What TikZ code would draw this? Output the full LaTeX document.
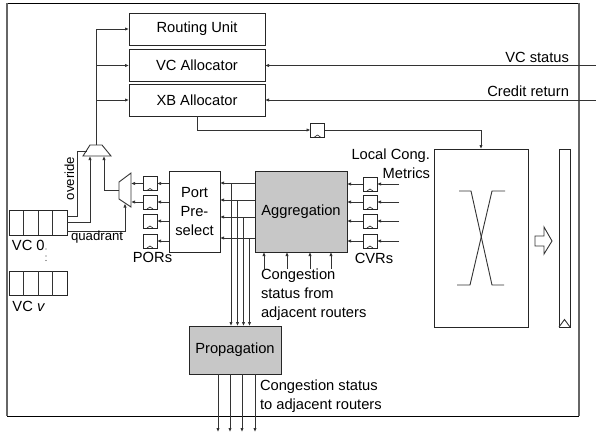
\documentclass[tikz,border=0pt]{standalone}
\usepackage{fontspec}
\setmainfont{Liberation Sans}
\usetikzlibrary{arrows.meta}
\tikzset{
  ln/.style={line width=0.9pt,draw=black!80},
  arr/.style={ln,-{Latex[length=4pt,width=3.4pt]}},
  blockbox/.style={draw=black!85,line width=0.9pt,fill=white,inner sep=0pt,outer sep=0pt,align=center,font=\fontsize{14.7}{18.7}\selectfont},
  graybox/.style={blockbox,fill=black!22},
  latch/.style={draw=black!85,line width=0.9pt,fill=white,inner sep=0pt,outer sep=0pt,minimum width=14pt,minimum height=14pt,
    path picture={\draw[line width=0.6pt] ([xshift=-3pt]path picture bounding box.south) -- ([yshift=2pt]path picture bounding box.south) -- ([xshift=3pt]path picture bounding box.south);}},
  lbl/.style={inner sep=0pt,outer sep=0pt,font=\fontsize{14.7}{18.7}\selectfont},
  small/.style={inner sep=0pt,outer sep=0pt,font=\fontsize{13.2}{14}\selectfont},
  dotmark/.style={fill=black!75,draw=none},
}
\begin{document}
\begin{tikzpicture}[x=1pt,y=-1pt]
\useasboundingbox (0,0) rectangle (596,433);
\fill[white] (0,0) rectangle (596,433);
% outer frame
\draw[line width=0.9pt,draw=black] (7,3) -- (579,3) (7,416) -- (579,416);
\draw[line width=1.6pt,draw=black!60] (7,3) -- (7,416) (579,3) -- (579,416);
% allocators
\node[blockbox,minimum width=136pt,minimum height=32pt] (ru) at (197,29) {Routing Unit};
\node[blockbox,minimum width=136pt,minimum height=32pt] (vc) at (197,65.5) {VC Allocator};
\node[blockbox,minimum width=136pt,minimum height=32pt] (xb) at (197,100) {XB Allocator};
% crossbar and output buffer
\node[blockbox,minimum width=94pt,minimum height=178pt] (cb) at (481,238) {};
\node[blockbox,minimum width=11pt,minimum height=178pt] (ob) at (564.5,238) {};
\draw[ln] (ob.south west) -- ++(5.5,-7.5) -- (ob.south east);
\draw[ln] (459,191) -- (471,191) -- (492,285) -- (504,285);
\draw[ln] (505,191) -- (492,191) -- (470,285) -- (457,285);
\draw[ln,fill=white] (535,236) -- (544,236) -- (544,227) -- (552,241) -- (544,254) -- (544,246) -- (535,246) -- cycle;
% central blocks
\node[blockbox,minimum width=51pt,minimum height=81pt] (pp) at (194.5,211.5) {Port\\Pre-\\select};
\node[graybox,minimum width=92pt,minimum height=81pt] (ag) at (301,211.5) {Aggregation};
\node[graybox,minimum width=92pt,minimum height=48pt] (pr) at (235,350) {Propagation};
% latches
\node[latch] (xl) at (317.5,130) {};
\node[latch] (p1) at (150,183.5) {};
\node[latch] (p2) at (150,202) {};
\node[latch] (p3) at (150,221) {};
\node[latch] (p4) at (150,241) {};
\node[latch] (c1) at (370,184) {};
\node[latch] (c2) at (370,202) {};
\node[latch] (c3) at (370,221) {};
\node[latch] (c4) at (370,241) {};
% VC buffers
\foreach \n/\y in {v0/223,vv/283.5}{
  \node[blockbox,minimum width=58pt,minimum height=24.5pt] (\n) at (38,\y) {};
  \foreach \d in {14.5,29,43.5}
    \draw[ln] ([xshift=\d pt]\n.north west) -- ([xshift=\d pt]\n.south west);
}
% muxes
\coordinate (mt) at (96.5,145);
\coordinate (ma) at (90,156);
\coordinate (mb) at (104,156);
\coordinate (mo) at (86.5,151);
\draw[ln,fill=white] (90,145) -- (102,145) -- (111,156) -- (83,156) -- cycle;
\coordinate (sw) at (119,190.5);
\coordinate (si1) at (131,183.5);
\coordinate (si2) at (131,202);
\coordinate (sq) at (125,203.5);
\draw[ln,fill=white] (131,173) -- (131,207) -- (119,199) -- (119,182) -- cycle;
% control connectors
\draw[ln] (mt) -- (96.5,29);
\draw[arr] (96.5,29) -- (ru.west);
\draw[arr] (96.5,65.5) -- (vc.west);
\draw[arr] (96.5,100) -- (xb.west);
\draw[ln] (v0.east |- 0,216) -- (77,216) -- (77,151) -- (mo);
\draw[arr] (v0.east |- 0,222) -- (90,222) -- (ma);
\draw[arr] (v0.east |- 0,231) -- (125,231) -- (sq);
\draw[arr] (sw) -- (104,190.5) -- (mb);
\draw[arr] (p1.west) -- (si1);
\draw[arr] (p2.west) -- (si2);
\foreach \p in {p1,p2,p3,p4}
  \draw[arr] (pp.west |- \p.east) -- (\p.east);
% inputs from right
\draw[arr] (596,65.5) -- (vc.east);
\draw[arr] (596,100) -- (xb.east);
% XB to crossbar
\draw[arr] (xb.south -| 197,0) -- (197,130) -- (xl.west);
\draw[arr] (xl.east) -- (cb.north |- xl.east) -- (cb.north);
% aggregation to port preselect and propagation
\foreach \y/\x in {183/231,200/237.5,217/243.5,238/249.5}{
  \draw[arr] (ag.west |- 0,\y) -- (pp.east |- 0,\y);
  \draw[arr] (\x,\y) -- (\x,326);
}
% CVRs
\foreach \c in {c1,c2,c3,c4}{
  \draw[arr] (\c.west) -- (ag.east |- \c.west);
  \draw[arr] (399,0 |- \c.east) -- (\c.east);
}
% congestion in
\foreach \x in {264,287,310,331}
  \draw[arr] (\x,268.5) -- (\x,252);
% congestion out
\foreach \x in {218,230,242,255}
  \draw[arr] (\x,374) -- (\x,432);
% labels
\node[lbl,anchor=east] (t1) at (569,57) {VC status};
\node[lbl,anchor=east] (t2) at (569,91) {Credit return};
\node[lbl,anchor=east,align=right] (t3) at (430,164) {Local Cong.\\Metrics};
\node[lbl] (t4) at (374,258) {CVRs};
\node[lbl,anchor=west,align=left] (t5) at (261,294.5) {Congestion\\status from\\adjacent routers};
\node[lbl,anchor=west,align=left] (t6) at (260,396) {Congestion status\\to adjacent routers};
\node[lbl] (t7) at (152.5,257.5) {PORs};
\node[lbl,anchor=west] (t8) at (12,245) {VC 0};
\node[lbl,anchor=west] (t9) at (12.5,306) {VC \textit{v}};
\node[small,anchor=west] (t10) at (71,237) {quadrant};
\node[small,rotate=90] (t11) at (69.5,178.5) {overide};
\foreach \y in {249,256,260.5}
  \fill[dotmark] (46,\y) circle (0.6pt);
\end{tikzpicture}
\end{document}
